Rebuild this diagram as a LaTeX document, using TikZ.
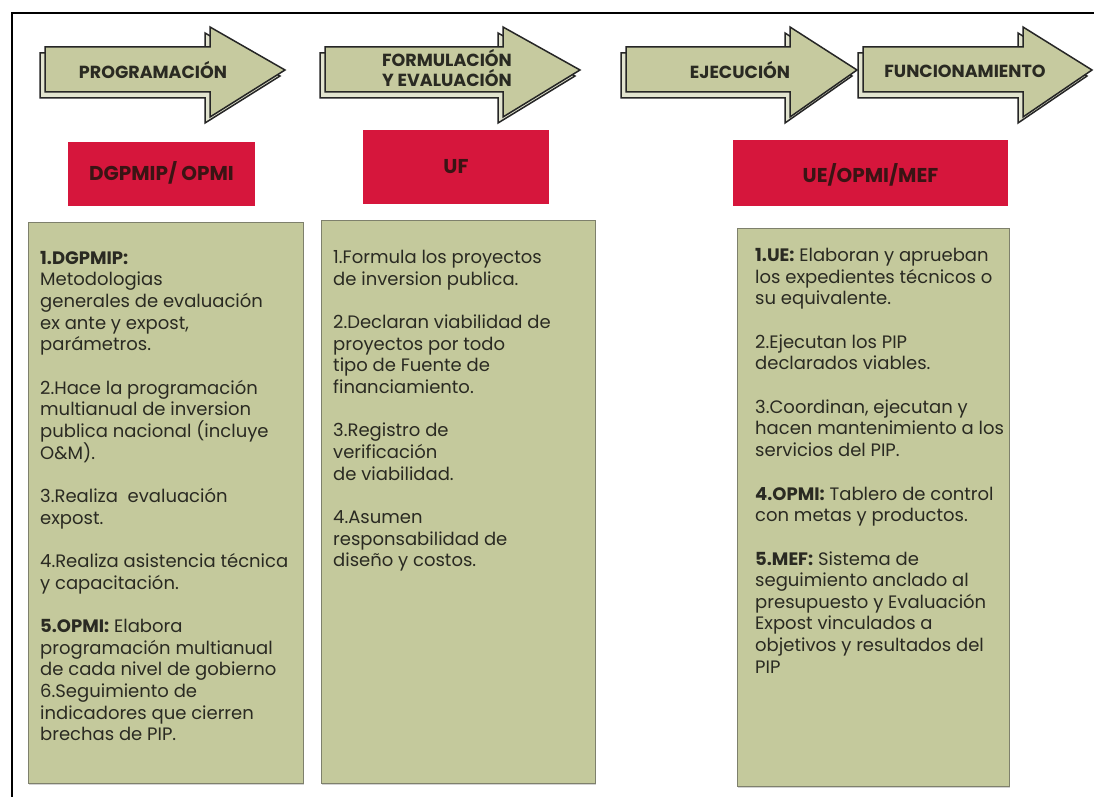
\documentclass[tikz,border=0pt]{standalone}
\usepackage{fontspec}
\setmainfont{Poppins}
\usetikzlibrary{shadows}
\definecolor{olivefill}{HTML}{C4C99C}
\definecolor{arrowfill}{HTML}{C6CA9F}
\definecolor{arrowback}{HTML}{E2E4CF}
\definecolor{crimsonbox}{HTML}{D6163C}
\definecolor{boxedge}{HTML}{7E806C}
\definecolor{inktext}{HTML}{2A2A22}
\definecolor{redtext}{HTML}{3A1414}
\newcommand\phasearrow[3]{%
  \begin{scope}[shift={(-5,6)}]
    \draw[arrowbacklayer] (#1,47) -- (#2,47) -- (#2,27) -- (#3,70) -- (#2,117) -- (#2,92) -- (#1,92) -- cycle;
  \end{scope}
  \draw[arrowfrontlayer] (#1,47) -- (#2,47) -- (#2,27) -- (#3,70) -- (#2,117) -- (#2,92) -- (#1,92) -- cycle;
}
\begin{document}
\begin{tikzpicture}[x=1pt,y=-1pt,
  arrowfrontlayer/.style={fill=arrowfill, draw=black!85, line width=1.5pt, line join=miter},
  arrowbacklayer/.style={fill=arrowback, draw=black!85, line width=1.5pt, line join=miter},
  phaselabel/.style={font=\fontsize{17.5}{21}\selectfont\bfseries, text=inktext, align=center, inner sep=0pt},
  actorlabel/.style={font=\fontsize{20}{24}\selectfont\bfseries, text=redtext, inner sep=0pt},
  dutybox/.style={fill=olivefill, draw=boxedge, line width=1pt,
    drop shadow={opacity=0.35, shadow xshift=1pt, shadow yshift=-2pt}},
  dutytext/.style={font=\fontsize{18}{21.6}\selectfont, text=inktext, align=left, anchor=north west, inner sep=0pt}
]
\useasboundingbox (0,0) rectangle (1094,797);
\fill[white] (0,0) rectangle (1094,797);
\draw[line width=2pt] (12,797) -- (12,13) -- (1094,13);

% phase arrows
\phasearrow{45}{210}{285}
\phasearrow{325}{503}{580}
\phasearrow{626}{790}{857}
\phasearrow{863}{1023}{1092}
\node[phaselabel] (p1) at (153,70) {PROGRAMACIÓN};
\node[phaselabel] (p2) at (447,68) {FORMULACIÓN\\[-1pt]Y EVALUACIÓN};
\node[phaselabel] (p3) at (740,70) {EJECUCIÓN};
\node[phaselabel] (p4) at (965,71) {FUNCIONAMIENTO};

% actor boxes
\fill[crimsonbox] (68,142) rectangle (255,206);
\node[actorlabel] (a1) at (161.5,173) {DGPMIP/ OPMI};
\fill[crimsonbox] (363,130) rectangle (549,204);
\node[actorlabel] (a2) at (456,167) {UF};
\fill[crimsonbox] (733,140) rectangle (1008,206);
\node[actorlabel] (a3) at (870.5,175) {UE/OPMI/MEF};

% duty boxes
\draw[dutybox] (28,222) rectangle (303,783);
\draw[dutybox] (321,220) rectangle (595,783);
\draw[dutybox] (737,228) rectangle (1009,786);

\node[dutytext] (d1) at (40,251) {%
\textbf{1.DGPMIP:}\\
Metodologias\\
generales de evaluación\\
ex ante y expost,\\
parámetros.\\[21.9pt]
2.Hace la programación\\
multianual de inversion\\
publica nacional (incluye\\
O\&M).\\[21.9pt]
3.Realiza\ \ evaluación\\
expost.\\[21.9pt]
4.Realiza asistencia técnica\\
y capacitación.\\[21.9pt]
\textbf{5.OPMI:} Elabora\\
programación multianual\\
de cada nivel de gobierno\\
6.Seguimiento de\\
indicadores que cierren\\
brechas de PIP.};

\node[dutytext] (d2) at (333,250) {%
1.Formula los proyectos\\
de inversion publica.\\[21.9pt]
2.Declaran viabilidad de\\
proyectos por todo\\
tipo de Fuente de\\
financiamiento.\\[21.9pt]
3.Registro de\\
verificación\\
de viabilidad.\\[21.9pt]
4.Asumen\\
responsabilidad de\\
diseño y costos.};

\node[dutytext] (d3) at (755,248) {%
\textbf{1.UE:} Elaboran y aprueban\\
los expedientes técnicos o\\
su equivalente.\\[21.9pt]
2.Ejecutan los PIP\\
declarados viables.\\[21.9pt]
3.Coordinan, ejecutan y\\
hacen mantenimiento a los\\
servicios del PIP.\\[21.9pt]
\textbf{4.OPMI:} Tablero de control\\
con metas y productos.\\[21.9pt]
\textbf{5.MEF:} Sistema de\\
seguimiento anclado al\\
presupuesto y Evaluación\\
Expost vinculados a\\
objetivos y resultados del\\
PIP};
\end{tikzpicture}
\end{document}
